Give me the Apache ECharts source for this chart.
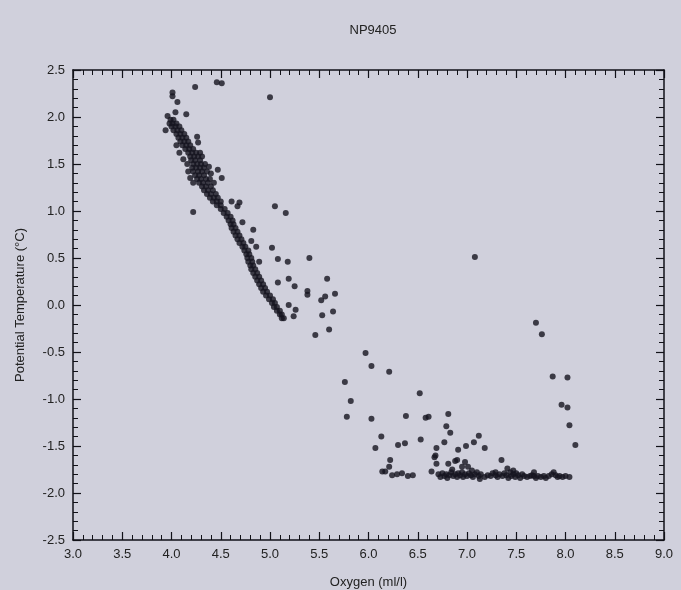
<!DOCTYPE html>
<html style="height: 100%">
<head>
<meta charset="utf-8"/>
<script type="text/javascript" src="https://cdn.jsdelivr.net/npm/echarts@6/dist/echarts.min.js"></script>
</head>
<body style="height: 100%; margin: 0; background: #d0d0dc">
<div id="container" style="width: 681px; height: 590px"></div>
<script type="text/javascript">
var titleText = "NP9405";
var xName = "Oxygen (ml/l)";
var yName = "Potential Temperature (\u00b0C)";

// isolated points above / beside the main band [oxygen, temp]
var upperPoints = [
	[4.01,2.26],[4.01,2.22],[4.24,2.32],[4.46,2.37],[4.51,2.36],[5.00,2.21],
	[4.06,2.16],[4.04,2.05],[3.96,2.01],[4.15,2.03],[3.94,1.86],[4.26,1.79],
	[4.27,1.73],[4.47,1.44],[4.51,1.35],[4.22,0.99]
];

// main dense band
var bandPoints = [
	[3.99,1.97],[4.02,1.97],
	[3.98,1.93],[4.01,1.93],[4.05,1.93],
	[4.00,1.90],[4.04,1.90],[4.08,1.90],
	[4.02,1.86],[4.06,1.86],[4.10,1.86],
	[4.05,1.82],[4.09,1.82],[4.13,1.82],
	[4.07,1.78],[4.11,1.78],[4.15,1.78],
	[4.09,1.74],[4.13,1.74],[4.17,1.74],
	[4.05,1.70],[4.11,1.70],[4.15,1.70],[4.19,1.70],
	[4.14,1.66],[4.18,1.66],[4.22,1.66],
	[4.08,1.62],[4.17,1.62],[4.21,1.62],[4.25,1.62],[4.29,1.62],
	[4.19,1.58],[4.23,1.58],[4.27,1.58],[4.31,1.58],
	[4.12,1.55],[4.20,1.54],[4.24,1.54],[4.29,1.54],
	[4.16,1.50],[4.22,1.50],[4.26,1.50],[4.30,1.50],[4.34,1.50],
	[4.21,1.46],[4.25,1.46],[4.29,1.46],[4.33,1.46],[4.38,1.47],
	[4.17,1.42],[4.22,1.42],[4.27,1.42],[4.31,1.42],[4.36,1.42],[4.40,1.40],
	[4.19,1.35],[4.24,1.38],[4.28,1.38],[4.33,1.38],
	[4.26,1.34],[4.30,1.34],[4.35,1.34],[4.39,1.34],
	[4.22,1.30],[4.28,1.30],[4.32,1.30],[4.37,1.30],[4.43,1.30],
	[4.31,1.26],[4.35,1.26],[4.40,1.26],
	[4.33,1.22],[4.37,1.22],[4.42,1.22],
	[4.36,1.18],[4.40,1.18],[4.45,1.18],
	[4.39,1.14],[4.43,1.14],[4.47,1.14],
	[4.42,1.10],[4.46,1.10],[4.50,1.10],
	[4.46,1.06],[4.50,1.06],
	[4.50,1.02],[4.54,1.02],
	[4.53,0.98],[4.57,0.98],
	[4.56,0.94],[4.60,0.94],
	[4.58,0.90],[4.62,0.90],
	[4.60,0.86],[4.63,0.86],
	[4.61,0.82],[4.65,0.82],
	[4.63,0.78],[4.67,0.78],
	[4.65,0.74],[4.69,0.74],
	[4.67,0.70],[4.71,0.70],
	[4.69,0.66],[4.73,0.66],
	[4.72,0.62],[4.75,0.62],
	[4.74,0.58],[4.78,0.58],
	[4.76,0.54],[4.79,0.54],
	[4.77,0.50],[4.81,0.50],
	[4.78,0.46],[4.82,0.46],
	[4.80,0.42],[4.83,0.42],
	[4.81,0.38],[4.85,0.38],
	[4.83,0.34],[4.87,0.34],
	[4.85,0.30],[4.89,0.30],
	[4.87,0.26],[4.91,0.26],
	[4.89,0.22],[4.93,0.22],
	[4.91,0.18],[4.95,0.18],
	[4.93,0.14],[4.97,0.14],
	[4.96,0.10],[5.00,0.10],
	[4.99,0.06],[5.03,0.06],
	[5.02,0.02],[5.05,0.02],
	[5.04,-0.02],[5.07,-0.02],
	[5.07,-0.06],[5.10,-0.06],
	[5.10,-0.10],[5.12,-0.10],
	[5.12,-0.14],[5.14,-0.14]
];

// scatter to the right of the band
var nearPoints = [
	[4.61,1.10],[4.69,1.09],[4.67,1.05],[5.05,1.05],[5.16,0.98],[4.72,0.88],
	[4.83,0.80],[4.81,0.68],[4.86,0.62],[5.02,0.61],[4.89,0.46],[5.08,0.49],
	[5.18,0.46],[5.40,0.50],[5.08,0.24],[5.19,0.28],[5.25,0.20],[5.38,0.15],
	[5.38,0.11],[5.58,0.28],[5.66,0.12],[5.52,0.05],[5.56,0.09],[5.64,-0.07],
	[5.53,-0.11],[5.19,0.00],[5.26,-0.05],[5.24,-0.12],[5.60,-0.26],[5.46,-0.32]
];

// middle scatter
var midPoints = [
	[5.97,-0.51],[6.03,-0.65],[6.21,-0.71],[5.76,-0.82],[5.82,-1.02],[5.78,-1.19],
	[6.03,-1.21],[6.52,-0.94],[6.38,-1.18],[6.58,-1.20],[6.61,-1.19],[6.81,-1.16],
	[6.79,-1.29],[6.83,-1.36],[6.13,-1.40],[6.07,-1.52],[6.30,-1.49],[6.37,-1.47],
	[6.53,-1.43],[6.77,-1.46],[6.69,-1.52],[6.68,-1.60],[6.67,-1.62],[6.91,-1.54],
	[6.99,-1.50],[7.07,-1.46],[7.12,-1.39],[7.18,-1.52],[7.35,-1.65],[7.08,0.51],
	[7.70,-0.19],[7.76,-0.31],[7.87,-0.76],[8.02,-0.77],[7.96,-1.06],[8.02,-1.09],
	[8.04,-1.28],[8.10,-1.49]
];

// near-freezing bottom layer
var bottomPoints = [
	[6.22,-1.65],[6.21,-1.72],[6.14,-1.77],[6.17,-1.77],[6.24,-1.81],[6.29,-1.80],
	[6.34,-1.79],[6.40,-1.82],[6.45,-1.81],[6.69,-1.69],[6.64,-1.77],[6.81,-1.69],
	[6.88,-1.66],[6.90,-1.65],[6.98,-1.67],[6.95,-1.72],[7.01,-1.72],[7.29,-1.78],
	[7.41,-1.74],
	[6.71,-1.80],[6.73,-1.83],[6.75,-1.79],[6.77,-1.82],[6.79,-1.80],[6.80,-1.84],
	[6.82,-1.81],[6.84,-1.78],[6.85,-1.75],[6.86,-1.82],[6.88,-1.80],[6.90,-1.83],
	[6.91,-1.79],[6.93,-1.81],[6.95,-1.78],[6.96,-1.83],[6.98,-1.80],[7.00,-1.82],
	[7.02,-1.79],[7.04,-1.81],[7.05,-1.76],[7.06,-1.83],[7.08,-1.80],[7.10,-1.78],
	[7.12,-1.82],[7.13,-1.85],[7.14,-1.80],[7.18,-1.83],[7.21,-1.81],[7.24,-1.82],
	[7.26,-1.79],[7.29,-1.81],[7.31,-1.83],[7.33,-1.80],[7.36,-1.82],[7.38,-1.79],
	[7.40,-1.81],[7.42,-1.84],[7.44,-1.78],[7.45,-1.82],[7.47,-1.76],[7.47,-1.80],
	[7.49,-1.83],[7.50,-1.79],[7.52,-1.81],[7.54,-1.84],[7.56,-1.80],[7.58,-1.82],
	[7.61,-1.83],[7.64,-1.82],[7.66,-1.81],[7.68,-1.78],[7.68,-1.82],[7.70,-1.84],
	[7.72,-1.82],[7.75,-1.83],[7.78,-1.82],[7.80,-1.84],[7.83,-1.82],[7.86,-1.80],
	[7.88,-1.78],[7.90,-1.81],[7.92,-1.83],[7.94,-1.82],[7.97,-1.83],[8.00,-1.82],
	[8.04,-1.83]
];

var fontFam = "'Liberation Sans', Arial, sans-serif";
var inkColor = "#111118";

function fmt1(v){
	return v.toFixed(1);
}

function makeAxis(pos, showLabel, extra){
	var ax = {
		type: "value",
		position: pos,
		min: -2.5,
		max: 2.5,
		interval: 0.5,
		axisLine: { show: true, onZero: false, lineStyle: { color: inkColor, width: 1.5 } },
		axisTick: { show: true, inside: true, length: 8, lineStyle: { color: inkColor, width: 1.2 } },
		minorTick: { show: true, splitNumber: 5, length: 5, lineStyle: { color: inkColor, width: 1 } },
		splitLine: { show: false },
		axisLabel: {
			show: showLabel,
			formatter: fmt1,
			color: "#222",
			fontFamily: fontFam,
			fontSize: 13,
			margin: 8
		}
	};
	for(var k in extra) {
		ax[k] = extra[k];
	}
	return ax;
}

var container = document.getElementById("container");
var myChart = echarts.init(container);

var allSeries = [upperPoints, bandPoints, nearPoints, midPoints, bottomPoints];
var series = [];
for(var i=0;i<allSeries.length;i++) {
	series.push({
		type: "scatter",
		data: allSeries[i],
		symbol: "circle",
		symbolSize: 6,
		itemStyle: { color: "#15141f" },
		silent: true
	});
}

var option = {
	backgroundColor: "#d0d0dc",
	animation: false,
	title: {
		text: titleText,
		left: 368,
		top: 19,
		textAlign: "center",
		textStyle: { fontFamily: fontFam, fontSize: 13, fontWeight: "normal", color: "#222" }
	},
	grid: { left: 73, right: 17, top: 70, bottom: 50, outerBoundsMode: "none", containLabel: false },
	xAxis: [
		makeAxis("bottom", true, {
			min: 3, max: 9,
			name: xName,
			nameLocation: "middle",
			nameGap: 36,
			nameTextStyle: { fontFamily: fontFam, fontSize: 13, color: "#222" }
		}),
		makeAxis("top", false, { min: 3, max: 9 })
	],
	yAxis: [
		makeAxis("left", true, {
			name: yName,
			nameLocation: "middle",
			nameGap: 46,
			nameTextStyle: { fontFamily: fontFam, fontSize: 13, color: "#222" }
		}),
		makeAxis("right", false, {})
	],
	series: series
};

myChart.setOption(option, true);
</script>
</body>
</html>
